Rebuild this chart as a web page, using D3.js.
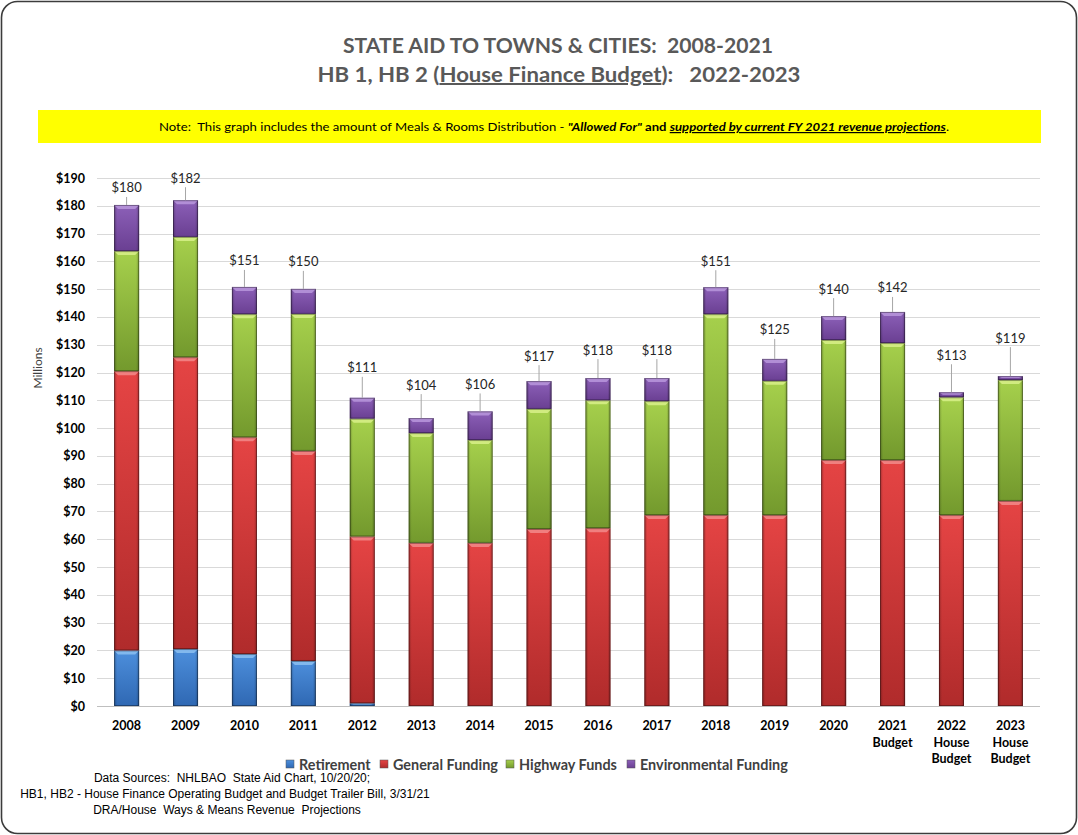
<!DOCTYPE html>
<html>
<head>
<meta charset="utf-8">
<script src="https://cdn.jsdelivr.net/npm/d3@7"></script>
<style>
  body { margin: 0; background: #fff; }
  svg { display: block; font-family: Lato, "Open Sans", sans-serif; }
</style>
</head>
<body>
<script>
// categories and series (millions of dollars)
var categories = ["2008", "2009", "2010", "2011", "2012", "2013", "2014", "2015",
                  "2016", "2017", "2018", "2019", "2020", "2021\nBudget",
                  "2022\nHouse\nBudget", "2023\nHouse\nBudget"];
var retirement = [20, 20.5, 18.7, 16.2, 1, 0, 0, 0, 0, 0, 0, 0, 0, 0, 0, 0];
var generalFunding = [100.5, 105, 78, 75.6, 60, 58.7, 58.7, 63.7, 64, 68.7, 68.7, 68.7, 88.5, 88.5, 68.7, 73.8];
var highwayFunds = [43.2, 43.3, 44.3, 49.3, 42.4, 39.5, 37, 43.2, 46, 41, 72.3, 48.3, 43.2, 42.1, 42.4, 43.5];
var environmental = [16.6, 13.2, 9.8, 9, 7.5, 5.4, 10.3, 10, 8, 8.3, 9.7, 7.9, 8.6, 11.2, 1.8, 1.4];
var seriesNames = ["Retirement", "General Funding", "Highway Funds", "Environmental Funding"];
var yTicks = d3.range(0, 191, 10);

//how far (px) each total label sits above its bar, as placed in the original
var labelLift = [17, 22, 26, 27, 30, 33, 27, 25, 28, 28, 26, 29, 27, 24, 37, 38];

//colors: [top, bottom, bevel]
var colors = {
  "Retirement": ["#4d8fdc", "#2f68b3", "#8cc0f0"],
  "General Funding": ["#e54444", "#b02b2b", "#f28a8a"],
  "Highway Funds": ["#a6d04c", "#73992d", "#d8f08a"],
  "Environmental Funding": ["#8c60b8", "#6a3f92", "#b896dc"]
};

var W = 1078, H = 835;
var svg = d3.select("body").append("svg")
  .attr("width", W).attr("height", H);

var defs = svg.append("defs");
seriesNames.forEach(function(s, i){
  var g = defs.append("linearGradient")
    .attr("id", "grad" + i)
    .attr("x1", 0).attr("y1", 0).attr("x2", 0).attr("y2", 1);
  g.append("stop").attr("offset", "0%").attr("stop-color", colors[s][0]);
  g.append("stop").attr("offset", "100%").attr("stop-color", colors[s][1]);
  var h = defs.append("linearGradient")
    .attr("id", "side" + i)
    .attr("x1", 0).attr("y1", 0).attr("x2", 1).attr("y2", 0);
  h.append("stop").attr("offset", "0%").attr("stop-color", "#000").attr("stop-opacity", 0.25);
  h.append("stop").attr("offset", "12%").attr("stop-color", "#000").attr("stop-opacity", 0);
  h.append("stop").attr("offset", "88%").attr("stop-color", "#000").attr("stop-opacity", 0);
  h.append("stop").attr("offset", "100%").attr("stop-color", "#000").attr("stop-opacity", 0.25);
});

//frame
svg.append("rect")
  .attr("x", 1.5).attr("y", 1.5)
  .attr("width", W - 3).attr("height", H - 3)
  .attr("rx", 16)
  .attr("fill", "#fff")
  .attr("stroke", "#3c3c3c")
  .attr("stroke-width", 1.6);

//titles
svg.append("text")
  .attr("x", 558).attr("y", 53)
  .attr("text-anchor", "middle")
  .attr("xml:space", "preserve")
  .style("font-size", "20px").style("font-weight", "bold")
  .style("fill", "#595959")
  .attr("textLength", 430).attr("lengthAdjust", "spacingAndGlyphs")
  .text("STATE AID TO TOWNS & CITIES:  2008-2021");

var t2 = svg.append("text")
  .attr("x", 559).attr("y", 82)
  .attr("text-anchor", "middle")
  .attr("xml:space", "preserve")
  .style("font-size", "20px").style("font-weight", "bold")
  .style("fill", "#595959")
  .attr("textLength", 483).attr("lengthAdjust", "spacingAndGlyphs");
t2.append("tspan").text("HB 1, HB 2 (");
t2.append("tspan").style("text-decoration", "underline").text("House Finance Budget");
t2.append("tspan").text("):   2022-2023");

//note bar
svg.append("rect")
  .attr("x", 38).attr("y", 110)
  .attr("width", 1003).attr("height", 33)
  .attr("fill", "#ffff00");

var note = svg.append("text")
  .attr("x", 554).attr("y", 131)
  .attr("text-anchor", "middle")
  .attr("xml:space", "preserve")
  .style("font-size", "12px")
  .style("fill", "#000")
  .attr("textLength", 790).attr("lengthAdjust", "spacingAndGlyphs");
note.append("tspan").text("Note:  This graph includes the amount of Meals & Rooms Distribution - ");
note.append("tspan").style("font-weight", "bold").style("font-style", "italic").text("\"Allowed For\"");
note.append("tspan").style("font-weight", "bold").text(" and ");
note.append("tspan").style("font-weight", "bold").style("font-style", "italic")
  .style("text-decoration", "underline").text("supported by current FY 2021 revenue projections");
note.append("tspan").text(".");

//scales
var x = d3.scaleBand()
  .domain(categories)
  .range([97, 1040])
  .paddingInner(0.575)
  .paddingOuter(0.29);

var y = d3.scaleLinear()
  .domain([0, 190])
  .range([706, 178]);

//gridlines
svg.append("g")
  .selectAll("line")
  .data(yTicks)
  .enter()
  .append("line")
  .attr("x1", 97).attr("x2", 1040)
  .attr("y1", function(d){ return Math.round(y(d)) + 0.5; })
  .attr("y2", function(d){ return Math.round(y(d)) + 0.5; })
  .attr("stroke", function(d){ return d == 0 ? "#bfbfbf" : "#d9d9d9"; })
  .attr("stroke-width", 1.2);

//y axis
var yAxis = svg.append("g")
  .attr("transform", "translate(89,0)")
  .call(d3.axisLeft(y).tickValues(yTicks).tickSize(0).tickPadding(4)
    .tickFormat(function(d){ return "$" + d; }));
yAxis.select(".domain").remove();
yAxis.selectAll("text")
  .style("font-family", "Lato, sans-serif")
  .style("font-size", "12.5px")
  .style("font-weight", "bold")
  .style("fill", "#000");

svg.append("text")
  .attr("transform", "translate(42,368) rotate(-90)")
  .attr("text-anchor", "middle")
  .style("font-size", "12px")
  .style("fill", "#404040")
  .text("Millions");

//stacked data
var table = categories.map(function(c, i){
  return {
    cat: c,
    "Retirement": retirement[i],
    "General Funding": generalFunding[i],
    "Highway Funds": highwayFunds[i],
    "Environmental Funding": environmental[i]
  };
});
var stacked = d3.stack().keys(seriesNames)(table);

var bw = x.bandwidth();
stacked.forEach(function(layer, li){
  var g = svg.append("g");
  var segs = g.selectAll("g")
    .data(layer.filter(function(d){ return d[1] - d[0] > 0; }))
    .enter()
    .append("g");

  segs.append("rect")
    .attr("x", function(d){ return x(d.data.cat); })
    .attr("y", function(d){ return y(d[1]); })
    .attr("width", bw)
    .attr("height", function(d){ return y(d[0]) - y(d[1]); })
    .attr("fill", "url(#grad" + li + ")");

  segs.append("rect")
    .attr("x", function(d){ return x(d.data.cat); })
    .attr("y", function(d){ return y(d[1]); })
    .attr("width", bw)
    .attr("height", function(d){ return y(d[0]) - y(d[1]); })
    .attr("fill", "url(#side" + li + ")");

  //bevel on top of each segment
  segs.append("path")
    .attr("d", function(d){
      var x0 = x(d.data.cat), top = y(d[1]);
      var hh = Math.min(4, (y(d[0]) - y(d[1])) / 2);
      return "M" + x0 + "," + top + "L" + (x0 + bw) + "," + top +
             "L" + (x0 + bw - 4) + "," + (top + hh) + "L" + (x0 + 4) + "," + (top + hh) + "Z";
    })
    .attr("fill", colors[seriesNames[li]][2])
    .attr("opacity", 0.85);

  segs.append("rect")
    .attr("x", function(d){ return x(d.data.cat) + 0.5; })
    .attr("y", function(d){ return y(d[1]) + 0.5; })
    .attr("width", bw - 1)
    .attr("height", function(d){ return Math.max(0, y(d[0]) - y(d[1]) - 1); })
    .attr("fill", "none")
    .attr("stroke", "#000")
    .attr("stroke-opacity", 0.35)
    .attr("stroke-width", 1);
});

//total labels with leader lines
var totals = table.map(function(d, i){
  return { cat: d.cat, lift: labelLift[i], total: d3.sum(seriesNames, function(k){ return d[k]; }) };
});
var tl = svg.append("g").selectAll("g").data(totals).enter().append("g");
tl.append("line")
  .attr("x1", function(d){ return x(d.cat) + bw / 2; })
  .attr("x2", function(d){ return x(d.cat) + bw / 2; })
  .attr("y1", function(d){ return y(d.total); })
  .attr("y2", function(d){ return y(d.total) - d.lift + 9; })
  .attr("stroke", "#a6a6a6")
  .attr("stroke-width", 1);
tl.append("text")
  .attr("x", function(d){ return x(d.cat) + bw / 2; })
  .attr("y", function(d){ return y(d.total) - d.lift + 4.5; })
  .attr("text-anchor", "middle")
  .style("font-size", "13px")
  .style("fill", "#262626")
  .text(function(d){ return "$" + Math.round(d.total); });

//x labels
var xl = svg.append("g").selectAll("text").data(categories).enter().append("text")
  .attr("x", function(d){ return x(d) + bw / 2; })
  .attr("y", 730)
  .attr("text-anchor", "middle")
  .style("font-size", "12.5px")
  .style("font-weight", "bold")
  .style("fill", "#000");
xl.each(function(d){
  var parts = d.split("\n");
  var t = d3.select(this);
  parts.forEach(function(p, i){
    t.append("tspan")
      .attr("x", x(d) + bw / 2)
      .attr("dy", i == 0 ? 0 : 16.5)
      .text(p);
  });
});

//legend
var legendX = [286, 380, 506, 627];
var lg = svg.append("g").selectAll("g").data(seriesNames).enter().append("g")
  .attr("transform", function(d, i){ return "translate(" + legendX[i] + ",760)"; });
lg.append("rect")
  .attr("width", 8).attr("height", 8)
  .attr("fill", function(d, i){ return "url(#grad" + i + ")"; })
  .attr("stroke", "#555").attr("stroke-width", 0.5);
lg.append("text")
  .attr("x", 13).attr("y", 9.5)
  .style("font-size", "14.4px")
  .style("font-weight", "bold")
  .style("fill", "#404040")
  .text(function(d){ return d; });

//footer
var footer = [
  {t: "Data Sources:  NHLBAO  State Aid Chart, 10/20/20;", x: 232, y: 782},
  {t: "HB1, HB2 - House Finance Operating Budget and Budget Trailer Bill, 3/31/21", x: 225, y: 798},
  {t: "DRA/House  Ways & Means Revenue  Projections", x: 227, y: 814}
];
svg.append("g").selectAll("text").data(footer).enter().append("text")
  .attr("x", function(d){ return d.x; })
  .attr("y", function(d){ return d.y; })
  .attr("text-anchor", "middle")
  .attr("xml:space", "preserve")
  .style("font-family", "'Liberation Sans', Arial, sans-serif")
  .style("font-size", "12px")
  .style("fill", "#000")
  .text(function(d){ return d.t; });
</script>
</body>
</html>
